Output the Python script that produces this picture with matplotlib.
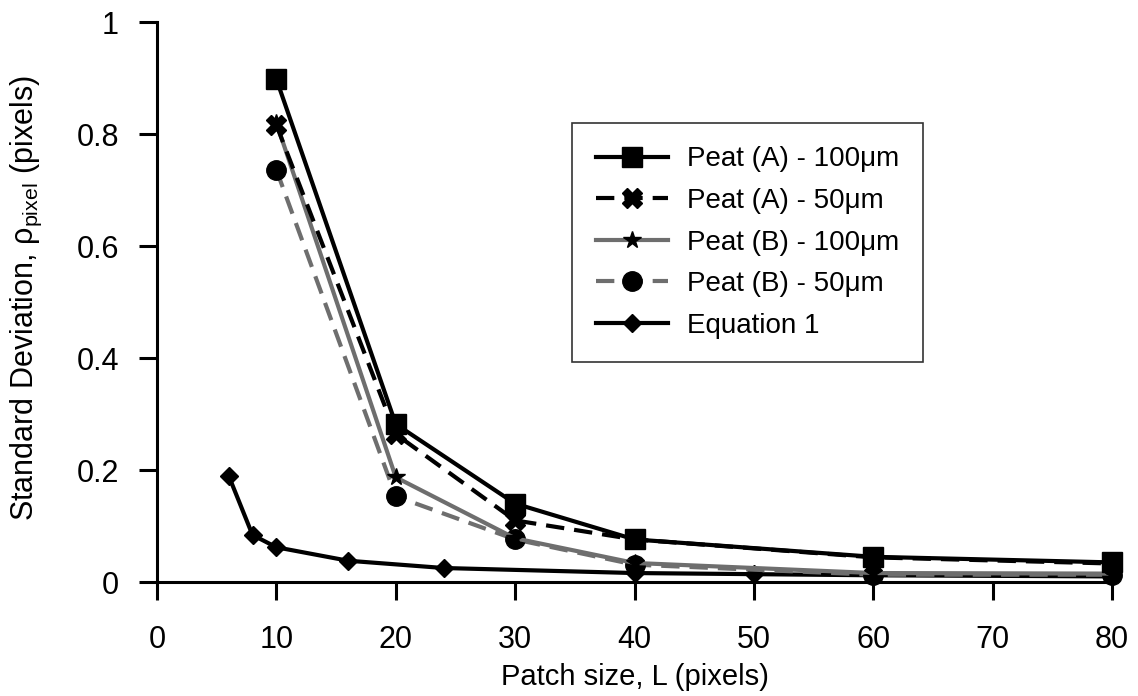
import matplotlib
matplotlib.use("Agg")
import matplotlib.pyplot as plt

plt.rcParams['font.family'] = ['Liberation Sans', 'DejaVu Sans']
plt.rcParams['mathtext.fontset'] = 'custom'
plt.rcParams['mathtext.rm'] = 'Liberation Sans'
plt.rcParams['mathtext.it'] = 'Liberation Sans:italic'

# values
L_peat = [10, 20, 30, 40, 60, 80]
peat_a_100 = [0.898, 0.282, 0.140, 0.076, 0.045, 0.035]
peat_a_50 = [0.816, 0.264, 0.110, 0.076, 0.044, 0.033]
peat_b_100 = [0.820, 0.187, 0.078, 0.034, 0.016, 0.015]
peat_b_50 = [0.736, 0.153, 0.076, 0.031, 0.013, 0.013]

L_eq = [6, 8, 10, 16, 24, 40, 50, 60, 80]
eq1 = [0.190, 0.084, 0.062, 0.038, 0.025, 0.016, 0.014, 0.012, 0.010]

xticks = [0, 10, 20, 30, 40, 50, 60, 70, 80]
yticks = [0, 0.2, 0.4, 0.6, 0.8, 1.0]
ytick_labels = ['0', '0.2', '0.4', '0.6', '0.8', '1']

gray = '#6e6e6e'
lw = 3
dash = (0, (4.4, 2.4))

fig = plt.figure(figsize=(11.38, 6.96), dpi=100)
ax = fig.add_axes([157 / 1138, 1 - 582 / 696, 955 / 1138, 560 / 696])

# drawn back to front so the peat (A) markers sit on top
h_eq, = ax.plot(L_eq, eq1, color='black', lw=lw, marker='D', ms=9,
                label='Equation 1', clip_on=False)
h_b50, = ax.plot(L_peat, peat_b_50, color=gray, lw=lw, ls=dash,
                 marker='o', ms=14, mfc='black', mec='black',
                 label='Peat (B) - 50\u03bcm', clip_on=False)
h_b100, = ax.plot(L_peat, peat_b_100, color=gray, lw=lw, marker='*', ms=13,
                  mfc='black', mec='black',
                  label='Peat (B) - 100\u03bcm', clip_on=False)
h_a50, = ax.plot(L_peat, peat_a_50, color='black', lw=lw, ls=dash,
                 marker='X', ms=14, label='Peat (A) - 50\u03bcm', clip_on=False)
h_a100, = ax.plot(L_peat, peat_a_100, color='black', lw=lw, marker='s', ms=14,
                  label='Peat (A) - 100\u03bcm', clip_on=False)

ax.set_xlim(0, 80)
ax.set_ylim(0, 1)
ax.set_xticks(xticks)
ax.set_yticks(yticks)
ax.set_yticklabels(ytick_labels)

for s in ['top', 'right']:
    ax.spines[s].set_visible(False)
for s in ['left', 'bottom']:
    ax.spines[s].set_linewidth(2.2)
ax.tick_params(direction='out', length=13, width=2.2, labelsize=22)
ax.tick_params(axis='x', pad=18)
ax.tick_params(axis='y', pad=14.5)

ax.set_xlabel('Patch size, L (pixels)', fontsize=21)
ax.xaxis.set_label_coords(0.5, -0.1446)
ax.set_ylabel('Standard Deviation, \u03c1$_{\\mathrm{pixel}}$ (pixels)',
              fontsize=22)
ax.yaxis.set_label_coords(-0.1183, 0.507)

leg = ax.legend(handles=[h_a100, h_a50, h_b100, h_b50, h_eq],
                loc='upper left', bbox_to_anchor=(0.4346, 0.82),
                borderaxespad=0, fontsize=20, frameon=True, fancybox=False,
                handlelength=2.6, handletextpad=0.68, labelspacing=0.56,
                borderpad=0.85, markerscale=1.0)
leg.get_frame().set_edgecolor('black')
leg.get_frame().set_linewidth(1.2)

fig.savefig('out.png', dpi=100)
